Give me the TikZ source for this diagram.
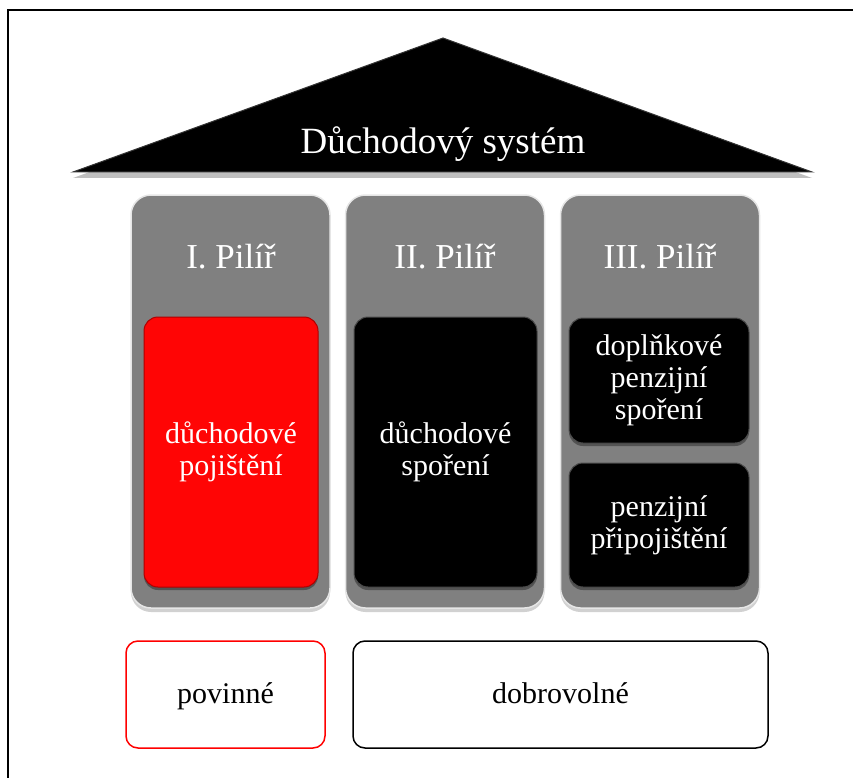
\documentclass[tikz,border=0pt]{standalone}
\usepackage{fontspec}
\setmainfont{Liberation Serif}
\usetikzlibrary{shadows}
\definecolor{pillargray}{HTML}{808080}
\definecolor{pillaredge}{HTML}{E6E6E6}
\definecolor{redbox}{HTML}{FF0505}
\definecolor{rededge}{HTML}{B00000}
\begin{document}
\begin{tikzpicture}[x=1pt,y=-1pt,
  pillar/.style={draw=pillaredge, line width=1.5pt, fill=pillargray, rounded corners=20pt,
    minimum width=199pt, minimum height=413pt, inner sep=0pt,
    drop shadow={shadow xshift=0pt, shadow yshift=-4pt, opacity=0.18, fill=black}},
  ptitle/.style={text=white, font=\fontsize{35}{40}\selectfont, anchor=base},
  innerbox/.style={rounded corners=14pt, line width=1pt, inner sep=2pt, align=center,
    text=white, font=\fontsize{30}{32}\selectfont,
    drop shadow={shadow xshift=0pt, shadow yshift=-3pt, opacity=0.35, fill=black}},
  redinner/.style={innerbox, fill=redbox, draw=rededge},
  blackinner/.style={innerbox, fill=black, draw=black!70},
  legend/.style={rounded corners=12pt, line width=1.5pt, fill=white,
    minimum height=107pt, text height=24pt, text depth=6pt,
    font=\fontsize{30}{33}\selectfont},
  roof/.style={fill=black, draw=black!80, line width=1pt,
    drop shadow={shadow xshift=0pt, shadow yshift=-6pt, opacity=0.25, fill=black}},
  frameline/.style={line width=2pt, draw=black}
]
\useasboundingbox (0,0) rectangle (853,778);

% frame
\coordinate (fTL) at (8,10);
\coordinate (fTR) at (853,10);
\coordinate (fBL) at (8,778);
\draw[frameline] (fBL) -- (fTL) -- (fTR);

% roof
\coordinate (rL) at (73,172);
\coordinate (rT) at (443,38);
\coordinate (rR) at (812,172);
\draw[roof] (rL) -- (rT) -- (rR) -- cycle;
\node[text=white, font=\fontsize{37}{40}\selectfont, anchor=base] (roofText) at (443,154) {Důchodový systém};

% pillars
\node[pillar] (p1) at (230.5,401.5) {};
\node[pillar] (p2) at (445,401.5) {};
\node[pillar] (p3) at (660,401.5) {};

\node[ptitle] (t1) at (231,268) {I. Pilíř};
\node[ptitle] (t2) at (445,268) {II. Pilíř};
\node[ptitle] (t3) at (660,268) {III. Pilíř};

% inner boxes
\node[redinner, minimum width=174pt, minimum height=270pt] (b1) at (231,452) {důchodové\\pojištění};
\node[blackinner, minimum width=183pt, minimum height=270pt] (b2) at (445.5,452) {důchodové\\spoření};
\node[blackinner, minimum width=180pt, minimum height=125pt] (b3) at (659,380.5) {doplňkové\\penzijní\\spoření};
\node[blackinner, minimum width=180pt, minimum height=124pt] (b4) at (659,525) {penzijní\\připojištění};

% legend boxes
\node[legend, draw=red, minimum width=199pt] (pov) at (225.5,694.5) {povinné};
\node[legend, draw=black, minimum width=415pt] (dob) at (560.5,694.5) {dobrovolné};
\end{tikzpicture}
\end{document}
